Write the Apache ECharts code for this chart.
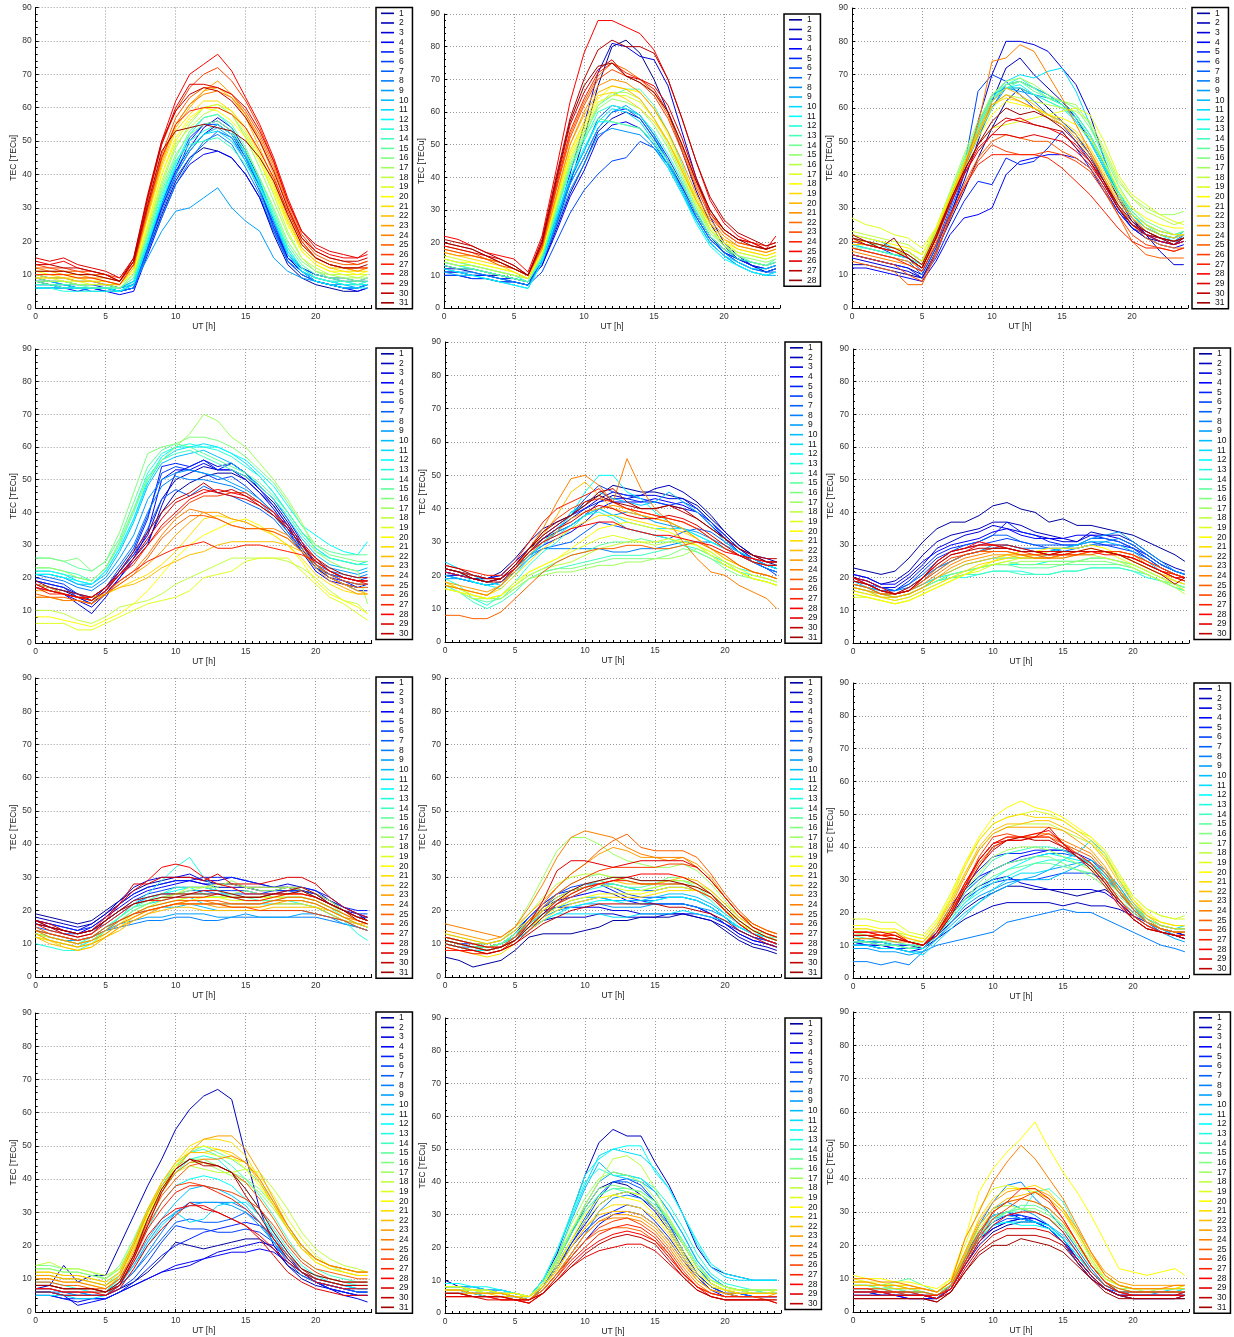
<!DOCTYPE html>
<html>
<head>
<meta charset="utf-8">
<script src="https://cdn.jsdelivr.net/npm/echarts@6/dist/echarts.min.js"></script>
<style>
  html, body { margin: 0; padding: 0; background: #fff; }
  #chart { width: 1234px; height: 1337px; }
</style>
</head>
<body>
<div id="chart"></div>
<script>
// Sample times (UT hours) shared by every daily TEC curve
const hours = [0,1,2,3,4,5,6,7,8,9,10,11,12,13,14,15,16,17,18,19,20,21,22,23,23.7];

// Monthly sets of daily TEC curves [TECu], one row per day of the month
const tecJan = [
[8,7,7,6,6,6,5,6,17,28,38,45,48,47,45,40,33,22,13,9,7,6,5,5,6],
[7,7,6,6,6,5,5,6,18,30,40,47,52,55,52,45,36,24,15,11,8,7,6,6,7],
[9,8,8,7,7,7,6,7,19,31,41,48,54,57,54,47,38,26,15,11,8,7,6,6,7],
[6,6,6,5,6,5,4,5,16,27,37,43,46,47,45,40,33,23,14,10,8,7,6,5,6],
[8,8,7,7,7,6,5,7,18,30,40,50,55,56,53,46,36,25,15,12,10,9,8,8,8],
[10,9,9,8,8,7,6,8,19,31,42,51,55,55,52,46,37,26,16,12,10,9,9,8,9],
[7,7,7,6,6,6,5,6,18,29,39,45,49,53,51,44,35,24,14,10,8,7,6,6,7],
[6,6,6,6,5,5,5,6,17,27,37,44,50,52,49,42,34,23,14,11,9,8,7,7,7],
[7,7,6,6,6,6,5,7,15,23,29,30,33,36,30,26,23,15,11,9,8,7,7,6,7],
[8,8,7,7,7,7,6,7,19,31,40,47,52,54,51,45,37,27,17,12,9,8,8,7,8],
[7,7,7,6,6,6,6,8,20,32,42,48,52,53,50,44,36,26,16,11,9,8,7,7,7],
[6,6,6,6,6,6,5,7,19,32,43,52,57,58,54,46,37,27,17,11,8,7,6,6,6],
[6,6,5,5,5,5,5,8,20,33,44,50,53,55,52,46,38,28,18,12,9,8,7,7,7],
[7,7,6,6,6,6,6,9,21,34,44,49,50,51,48,43,36,27,18,12,9,8,8,7,8],
[8,7,7,7,6,6,6,9,22,35,45,53,57,58,55,48,39,29,19,13,10,9,8,8,8],
[9,8,8,7,7,7,7,10,22,36,46,52,55,56,53,47,39,30,20,14,11,9,9,8,9],
[8,8,8,7,7,7,6,10,23,37,48,55,60,61,58,51,42,32,22,15,11,10,9,9,9],
[10,9,9,8,8,8,7,11,24,38,49,54,58,60,58,52,44,34,23,15,12,10,10,9,10],
[9,9,8,8,7,7,7,11,25,40,50,56,60,61,59,53,45,36,25,17,13,11,10,10,10],
[11,10,10,9,9,8,7,11,25,40,51,57,60,59,56,51,44,35,25,17,13,11,11,10,11],
[10,10,9,9,8,8,7,12,27,42,53,58,62,62,59,54,46,37,26,18,14,12,11,11,11],
[9,9,9,8,8,7,7,12,28,43,54,60,65,66,63,57,48,38,27,18,14,12,12,11,12],
[11,11,10,10,9,9,8,13,28,44,55,61,65,68,64,58,50,40,28,19,15,13,12,11,12],
[12,11,11,10,10,9,8,13,29,45,55,61,64,65,63,58,51,42,30,20,15,13,12,12,12],
[12,12,11,11,10,10,8,13,30,46,57,63,66,66,64,59,52,43,31,21,16,14,13,13,14],
[13,12,12,11,11,10,9,14,32,49,59,66,70,72,68,62,54,44,32,22,17,15,14,13,14],
[10,10,10,9,9,8,7,13,30,45,55,59,60,60,58,54,47,39,29,20,15,13,12,12,12],
[14,13,14,12,11,10,8,14,33,50,62,70,73,76,71,63,55,45,33,23,18,16,15,15,16],
[15,14,15,13,12,11,9,15,33,49,60,67,67,66,64,60,53,44,32,23,19,17,16,15,17],
[13,13,12,12,11,10,8,15,34,50,59,64,66,65,62,57,50,41,30,21,17,15,14,14,15],
[11,11,11,10,10,9,8,14,31,47,53,54,55,54,53,50,45,38,28,19,15,13,12,12,13]
];

const tecFeb = [
[11,11,10,10,9,8,7,14,25,38,52,68,80,82,78,70,60,48,36,26,19,15,13,11,12],
[12,12,11,10,10,9,8,13,24,35,44,54,58,60,58,52,45,37,29,22,18,15,13,12,13],
[10,10,9,9,8,8,7,14,26,41,56,72,81,80,77,76,68,54,40,28,20,16,13,11,12],
[13,12,12,11,10,9,8,13,23,34,42,52,56,57,55,50,44,36,28,21,17,15,14,13,14],
[11,11,10,10,9,9,8,14,27,38,46,55,60,61,59,53,46,38,29,22,17,15,13,12,13],
[10,10,9,9,8,8,7,11,20,29,36,41,45,46,51,49,44,37,29,22,17,14,12,11,11],
[13,12,12,11,10,9,8,15,27,39,48,58,62,61,58,52,45,36,28,21,17,14,12,11,12],
[12,11,11,10,9,8,7,14,25,36,44,53,55,54,53,49,43,35,27,20,16,13,11,10,11],
[11,10,10,9,8,7,6,14,26,38,46,55,60,62,59,53,45,36,27,20,16,13,11,10,10],
[14,13,12,11,10,9,8,15,28,40,48,57,61,60,57,51,44,36,27,20,16,14,12,12,13],
[12,11,10,9,8,7,6,14,27,40,49,57,57,56,55,50,43,35,26,19,15,13,11,10,11],
[15,14,13,12,11,10,8,15,29,42,51,60,62,61,59,54,47,39,30,22,18,15,14,13,14],
[14,13,12,11,10,9,8,16,29,43,52,62,65,67,67,62,54,44,33,24,19,16,14,13,15],
[13,12,12,11,10,9,8,16,30,43,52,58,57,56,55,51,45,38,29,22,18,16,14,13,14],
[15,14,13,12,11,10,9,16,30,44,53,61,64,63,61,56,49,40,31,23,19,16,15,14,15],
[14,13,13,12,11,10,9,17,31,45,54,62,66,66,64,58,50,41,31,24,19,17,16,15,16],
[16,15,14,13,12,11,9,17,32,46,55,63,65,65,63,58,51,42,32,24,20,17,16,15,16],
[15,14,14,13,12,11,9,17,32,47,56,64,68,67,66,61,53,43,33,25,20,18,17,16,17],
[17,16,15,14,13,11,9,18,33,48,57,65,66,64,61,57,51,43,34,26,21,18,17,16,17],
[18,17,16,15,14,12,10,18,34,50,59,66,68,67,64,58,51,42,33,26,21,19,18,17,18],
[17,16,16,15,14,12,10,18,34,50,60,68,70,69,66,61,54,45,35,27,22,19,18,17,18],
[19,18,17,15,14,12,10,19,36,53,63,71,75,73,70,66,59,49,38,29,23,20,19,18,19],
[18,17,16,15,13,12,10,19,36,52,62,70,73,71,69,65,58,48,37,28,23,20,19,18,19],
[20,19,18,16,14,12,10,19,37,54,64,72,75,72,70,67,60,50,39,29,24,21,20,19,20],
[22,21,19,17,16,15,11,22,42,63,78,88,88,86,84,79,70,58,45,33,26,22,20,18,22],
[19,18,17,16,15,13,10,20,38,56,66,73,76,71,70,68,62,52,40,30,24,21,20,18,19],
[21,20,19,17,15,13,10,21,40,58,70,79,82,80,80,78,70,58,45,34,27,23,21,19,20],
[20,19,18,16,14,12,10,20,39,57,68,74,75,71,69,66,60,50,39,30,24,21,19,18,19]
];

const tecMar = [
[13,13,12,11,10,9,17,26,35,45,54,62,66,64,60,56,52,46,38,30,24,21,20,19,20],
[16,15,14,13,12,10,18,28,38,50,62,72,75,70,66,62,57,50,42,33,26,22,20,19,21],
[15,14,13,12,11,9,16,27,40,56,70,80,80,79,77,72,67,58,45,33,27,22,17,13,13],
[12,12,11,10,9,8,14,22,27,28,30,40,44,45,46,46,45,42,36,29,24,21,19,18,19],
[16,15,14,13,12,9,15,24,32,38,37,45,43,44,48,53,48,42,35,29,24,22,21,20,21],
[20,19,18,16,15,11,19,30,42,65,70,68,64,60,57,55,50,44,37,30,25,22,20,19,20],
[18,17,16,15,14,10,18,29,40,55,64,66,66,62,58,56,52,46,38,31,25,22,21,19,22],
[19,18,17,16,15,12,21,32,42,52,60,67,68,66,64,61,57,51,43,34,27,23,21,20,22],
[21,20,19,17,16,13,22,32,42,51,60,66,65,64,63,62,58,52,43,34,28,24,22,21,23],
[20,19,18,17,16,13,22,33,43,53,62,67,68,66,64,61,56,50,42,34,28,24,22,21,22],
[22,21,20,18,17,14,23,34,44,54,63,68,70,69,71,72,65,55,45,35,28,24,22,21,23],
[19,18,17,16,15,13,22,33,43,53,62,66,67,64,62,60,56,50,42,34,28,24,22,20,21],
[21,20,19,18,17,14,23,34,44,54,63,67,69,66,63,61,58,52,44,35,29,25,23,22,23],
[20,19,19,18,17,14,23,33,43,53,62,66,66,64,62,60,57,51,43,35,29,25,23,22,22],
[18,18,17,16,16,13,22,33,44,54,63,66,68,65,63,61,58,52,44,35,29,25,22,21,22],
[19,19,18,17,16,13,23,34,45,55,64,67,68,66,63,62,60,54,46,37,30,26,24,22,23],
[21,20,19,18,17,14,24,35,46,56,64,68,69,67,64,62,61,55,47,38,33,30,28,28,29],
[23,22,21,20,19,16,24,34,44,52,60,64,63,62,61,60,59,56,48,39,33,29,27,25,26],
[27,25,24,22,21,18,24,33,42,49,54,55,56,57,58,59,60,58,50,40,34,31,28,26,25],
[22,21,20,19,18,16,24,34,43,51,58,62,61,60,58,57,55,51,44,36,30,27,25,24,24],
[20,20,19,18,17,14,23,33,43,52,61,63,62,60,58,56,53,48,41,34,28,25,23,22,22],
[19,19,18,17,16,13,22,33,43,53,62,66,64,61,58,55,52,47,40,33,27,24,22,21,22],
[18,17,16,15,14,12,21,32,42,52,61,64,62,60,57,55,51,46,39,32,27,23,21,20,21],
[17,16,15,14,13,11,20,31,42,55,74,75,79,77,70,63,55,47,39,31,25,21,19,18,18],
[14,13,12,11,7,7,16,27,37,45,50,52,51,50,50,47,45,42,36,28,20,16,15,15,15],
[16,15,14,13,10,8,17,27,36,44,49,47,46,46,47,46,44,41,35,28,22,19,18,17,18],
[18,17,16,15,13,11,19,28,36,43,46,46,46,46,45,42,38,34,29,24,20,18,18,17,18],
[20,19,18,17,15,12,21,31,40,48,52,56,57,55,54,52,49,44,37,30,25,22,20,19,20],
[21,19,18,17,15,12,21,31,40,47,52,52,51,52,51,50,47,43,37,30,25,22,21,20,21],
[22,20,19,18,16,13,22,32,41,49,54,57,56,55,54,53,48,44,38,30,25,23,21,19,21],
[21,20,18,21,15,12,21,32,41,49,56,60,58,59,57,54,50,45,38,31,26,23,21,20,21]
];

const tecApr = [
[18,17,16,14,12,16,21,26,31,40,46,49,51,52,52,50,46,42,36,29,23,20,18,17,17],
[19,18,17,15,13,17,22,27,33,44,50,52,54,53,53,51,47,43,37,30,24,21,19,18,18],
[17,16,15,12,9,14,20,25,30,42,52,54,56,54,55,52,48,44,38,31,24,20,18,16,16],
[18,17,15,13,11,15,20,26,34,50,53,53,55,53,53,50,46,41,35,28,22,19,18,17,18],
[19,18,17,14,12,16,22,28,38,54,55,54,56,53,55,52,47,42,36,29,23,20,19,17,17],
[20,19,18,15,13,17,23,29,39,52,54,53,52,50,51,48,44,40,34,28,23,21,20,19,20],
[18,17,16,15,14,17,22,27,35,44,47,45,48,46,45,43,41,38,33,28,23,21,20,19,19],
[21,20,19,17,16,19,24,30,40,48,51,50,50,49,48,46,43,39,34,29,24,22,21,20,21],
[21,21,20,18,17,20,26,33,44,50,52,53,52,51,49,47,44,40,35,30,25,23,22,21,22],
[21,21,20,18,18,21,28,37,48,55,57,58,59,57,55,52,48,44,38,32,27,24,23,22,23],
[22,22,21,19,18,22,29,38,49,56,59,60,61,60,58,55,51,46,40,34,29,26,25,24,25],
[21,21,20,19,18,22,29,38,50,57,60,60,60,60,58,56,52,48,42,36,33,30,28,27,31],
[22,22,21,20,19,23,31,41,52,58,60,61,60,59,57,54,51,46,40,34,29,26,25,24,24],
[23,23,22,21,19,23,30,40,51,56,58,59,57,55,53,51,48,44,39,33,28,26,25,24,24],
[26,26,25,23,22,25,32,43,54,59,61,60,58,56,54,52,49,45,40,34,30,28,27,27,27],
[26,26,25,26,22,25,34,46,58,60,61,63,63,62,60,57,53,49,43,36,30,27,26,25,25],
[23,23,22,20,19,23,31,41,50,56,60,64,70,68,63,60,55,50,44,37,28,25,23,22,12],
[10,10,9,7,6,8,11,12,13,15,18,20,22,24,26,26,26,26,25,23,20,16,13,12,9],
[6,6,6,4,4,6,8,10,12,13,14,16,20,21,22,25,26,26,26,22,18,14,12,9,7],
[8,8,7,6,5,7,9,12,16,21,26,30,33,35,37,38,36,33,30,25,19,15,13,11,9],
[18,17,15,14,13,15,17,19,21,24,28,33,38,39,38,37,35,33,30,26,21,18,16,15,15],
[16,16,15,14,14,15,17,18,20,23,25,27,28,30,31,31,31,31,30,28,24,20,18,16,15],
[14,14,13,13,12,15,18,21,24,28,33,37,40,40,38,37,35,34,32,28,23,19,17,15,15],
[14,14,13,13,12,15,19,22,27,33,38,41,40,38,36,35,35,35,33,29,24,20,18,17,17],
[15,14,14,13,12,15,18,21,26,32,36,39,39,38,36,35,35,34,32,28,24,21,19,18,18],
[18,16,15,14,14,17,21,24,30,35,39,43,45,45,46,46,43,40,35,30,25,22,20,19,19],
[17,15,15,14,13,16,19,22,25,27,29,30,31,29,29,30,30,29,28,27,25,22,20,19,18],
[17,16,15,14,14,17,21,25,30,36,40,44,46,47,46,45,43,40,36,31,26,22,20,19,19],
[18,16,15,14,13,16,21,26,32,38,43,45,47,46,45,44,42,39,35,30,25,22,20,19,19],
[19,17,16,15,14,17,22,28,34,40,44,46,49,46,47,45,42,39,35,30,26,23,21,20,20]
];

const tecMay = [
[21,20,19,19,21,25,30,34,36,38,42,44,47,46,45,45,44,43,41,37,33,29,26,24,23],
[22,21,20,19,20,24,28,31,33,35,38,42,44,43,44,46,47,45,42,38,33,29,26,25,24],
[20,20,19,18,19,23,27,31,34,37,40,43,45,44,44,44,43,43,40,36,32,28,25,23,22],
[21,20,19,18,19,22,26,29,31,33,36,40,42,42,42,43,42,41,39,35,31,27,24,22,21],
[22,21,20,19,20,24,28,32,35,38,40,42,43,43,42,42,41,40,39,36,32,28,25,23,22],
[20,19,18,17,18,22,27,31,34,38,43,47,45,44,43,42,41,42,40,36,31,27,24,22,20],
[21,20,19,18,19,22,26,28,29,30,33,36,35,34,33,32,31,33,34,33,30,27,24,22,21],
[20,19,18,17,18,21,25,28,28,28,28,28,27,27,28,28,29,30,30,30,28,26,24,22,21],
[19,19,18,17,18,22,27,30,33,35,38,40,38,39,38,36,35,34,33,31,29,27,25,23,22],
[20,19,18,17,18,22,26,29,33,39,41,45,43,42,41,42,45,42,39,35,30,27,25,23,22],
[24,22,20,18,17,21,26,30,32,35,38,40,38,36,35,34,34,34,32,30,28,26,24,23,23],
[22,21,18,17,16,20,25,30,34,38,45,50,50,45,43,39,36,34,32,30,28,26,24,23,22],
[19,17,13,11,14,18,23,27,30,34,38,39,37,34,33,32,31,29,28,26,24,22,21,20,19],
[17,15,12,10,12,15,19,21,22,23,24,25,26,26,26,27,28,29,27,25,23,21,20,19,18],
[16,15,13,12,13,17,20,22,24,26,27,29,30,30,31,30,30,31,29,26,23,21,19,18,17],
[17,16,14,13,13,16,19,21,22,22,23,24,25,25,25,25,26,28,27,25,22,20,19,18,17],
[18,16,14,13,13,16,19,20,21,21,22,23,23,24,24,25,25,26,28,26,23,21,19,18,17],
[16,15,13,13,14,17,20,22,23,24,26,28,29,30,30,29,30,30,29,27,24,21,19,18,17],
[17,16,14,13,14,18,21,23,25,27,29,31,32,31,30,30,31,30,29,27,24,22,20,19,18],
[16,15,14,13,14,17,21,23,25,28,31,34,35,36,35,34,33,31,29,26,23,21,19,18,17],
[18,16,15,14,16,20,24,28,31,34,36,38,38,37,36,35,34,33,31,28,25,23,21,20,19],
[17,16,15,14,17,22,27,32,38,45,48,44,40,39,38,37,36,34,31,28,25,23,21,20,19],
[18,17,16,15,17,21,26,30,33,37,39,40,41,40,38,37,36,34,31,28,26,23,21,20,19],
[17,16,15,14,17,22,28,34,42,49,50,47,42,55,46,40,36,30,25,21,20,17,15,13,10],
[8,8,7,7,9,13,17,21,24,26,27,28,28,29,29,28,28,29,30,28,26,23,21,20,19],
[22,21,20,19,19,23,28,33,37,40,42,43,42,40,39,38,37,36,34,31,28,26,24,23,23],
[23,22,21,20,20,24,30,36,40,42,44,46,42,40,39,38,37,36,34,31,28,26,25,24,24],
[21,20,19,18,19,22,27,30,32,34,35,36,36,34,33,32,32,31,30,29,27,26,25,24,24],
[22,21,19,18,18,22,27,31,34,36,39,41,40,38,37,37,38,37,35,32,29,26,24,23,23],
[23,22,20,19,19,23,28,32,35,38,41,45,46,42,40,40,41,39,37,34,31,28,26,25,25],
[22,21,19,18,19,23,28,33,36,38,41,44,42,41,40,40,41,40,37,34,31,28,26,24,24]
];

const tecJun = [
[23,22,21,22,26,31,35,37,37,39,42,43,41,40,37,38,36,36,35,34,33,31,29,27,25],
[21,20,18,19,22,27,31,33,34,35,37,37,36,34,33,32,31,34,33,33,31,28,25,23,22],
[20,19,17,17,20,24,29,31,33,34,36,35,34,33,32,31,31,33,33,32,30,27,24,22,21],
[21,20,18,18,21,25,28,30,31,32,34,35,33,32,32,32,33,33,32,31,29,27,24,22,21],
[20,19,17,16,19,23,27,29,30,31,33,37,34,33,31,30,30,31,30,30,29,26,23,21,20],
[19,18,16,16,18,22,26,28,29,30,31,32,31,30,29,29,29,30,30,29,28,26,23,21,20],
[20,18,17,16,18,21,25,28,30,31,33,33,31,30,30,30,30,32,32,31,29,26,23,21,20],
[19,18,16,16,17,20,23,25,27,28,29,30,29,29,29,28,29,30,31,32,30,27,24,22,21],
[18,17,16,15,17,20,23,25,27,28,30,30,29,28,28,29,30,32,33,34,31,28,25,22,21],
[19,17,16,15,16,19,22,25,27,28,29,29,28,28,28,29,30,31,31,30,28,25,22,20,19],
[18,17,15,15,16,18,20,22,24,25,26,26,26,26,27,27,28,28,28,27,25,23,21,19,18],
[18,17,15,15,16,18,20,21,22,23,24,24,24,24,25,25,25,26,26,25,24,22,20,18,17],
[17,16,15,14,15,17,19,20,20,21,22,22,22,21,21,22,22,23,23,23,22,20,19,17,16],
[17,16,15,14,15,17,19,20,21,21,22,22,21,21,21,22,22,23,23,23,22,21,19,17,16],
[18,17,15,14,15,17,19,21,22,23,24,24,23,23,23,24,24,24,24,24,23,21,19,18,17],
[17,16,14,14,15,17,19,21,22,23,24,25,24,24,24,24,25,25,25,24,23,21,19,18,17],
[16,15,14,13,14,16,18,20,21,23,24,24,25,25,25,25,25,26,26,25,24,22,20,18,16],
[15,14,13,12,13,15,17,19,21,23,25,26,26,26,26,26,27,27,26,25,23,21,19,17,15],
[14,14,13,12,13,15,17,19,21,22,24,25,26,27,28,28,28,29,28,26,24,22,20,18,16],
[15,14,13,12,13,15,17,19,21,23,25,27,28,28,29,29,29,30,29,27,25,23,21,19,18],
[16,15,14,13,14,16,18,20,22,24,25,26,27,27,27,28,28,28,28,27,25,23,21,19,18],
[17,16,14,14,15,17,20,22,24,25,26,27,26,26,26,27,28,28,28,27,25,23,21,20,19],
[17,16,15,14,15,17,20,23,25,26,27,27,27,26,26,27,27,28,28,27,26,24,22,20,19],
[18,17,15,15,16,18,21,24,26,27,28,28,27,26,26,27,27,28,28,28,27,24,22,21,20],
[18,17,15,15,16,19,22,25,27,28,28,28,27,27,26,26,27,27,28,28,27,25,23,21,20],
[19,18,16,15,16,19,23,26,27,28,29,29,28,27,27,27,27,28,28,28,27,25,23,21,20],
[20,18,16,15,16,20,24,27,28,30,30,29,28,28,27,28,28,28,28,27,26,24,22,21,20],
[20,18,16,15,16,20,25,28,29,31,30,29,28,28,27,27,28,28,27,27,26,24,22,20,20],
[20,19,17,15,17,20,25,28,29,30,30,30,29,28,28,28,28,28,28,27,26,24,22,20,19],
[19,18,16,15,16,20,24,27,28,29,29,29,28,28,27,28,28,29,28,27,25,23,21,18,20]
];

const tecJul = [
[19,18,17,16,17,20,23,26,28,29,30,30,29,28,28,27,27,27,27,26,24,22,20,18,18],
[18,17,16,15,16,19,22,25,27,28,29,29,28,27,27,27,26,26,27,26,25,23,21,19,17],
[17,16,15,14,16,19,23,27,29,30,30,31,29,29,30,29,28,27,28,27,26,23,20,19,18],
[16,15,14,13,15,18,21,24,26,27,28,29,28,28,28,27,26,26,26,26,25,22,20,18,17],
[17,16,15,14,15,18,22,25,27,28,29,29,30,30,30,29,28,27,27,27,26,24,21,20,20],
[16,15,14,13,14,17,20,23,25,26,27,27,27,26,26,26,25,26,26,26,25,23,21,19,19],
[15,14,13,13,14,16,19,22,24,25,25,26,26,25,25,25,25,25,26,25,24,22,20,18,17],
[14,13,12,11,12,14,15,16,17,17,18,18,17,17,18,18,18,18,18,18,18,17,16,15,14],
[13,12,11,11,12,14,16,17,18,18,19,19,19,18,18,19,18,18,18,19,19,18,16,15,14],
[14,13,12,11,12,15,17,19,20,21,21,22,21,20,20,20,20,20,20,20,19,18,17,15,14],
[13,12,11,10,11,14,17,20,22,23,24,24,22,22,22,22,22,22,22,22,21,19,17,16,15],
[12,11,10,9,11,14,18,21,24,25,26,27,25,24,24,23,23,23,23,23,22,20,18,16,15],
[10,9,8,8,10,14,18,22,25,29,33,36,30,26,24,23,23,23,23,22,21,19,17,13,11],
[13,12,11,10,12,15,18,21,23,25,27,27,27,26,25,24,24,24,24,24,23,21,18,16,15],
[14,13,12,11,12,15,18,21,22,24,25,25,25,24,24,24,23,23,24,24,23,21,19,17,16],
[13,12,11,10,11,14,17,19,21,22,23,24,24,24,25,26,25,24,24,24,23,21,19,17,16],
[14,12,11,10,11,14,17,20,22,24,25,26,27,27,29,27,26,26,27,26,24,22,19,17,16],
[13,12,11,10,11,13,16,19,21,23,25,27,27,28,28,27,27,27,27,27,25,23,20,18,17],
[12,11,10,9,10,13,16,19,21,22,23,24,24,24,23,23,23,24,24,24,23,21,19,17,16],
[13,11,10,9,10,12,15,18,20,21,22,23,24,24,24,24,24,24,25,25,24,22,20,18,17],
[12,11,9,8,9,12,15,18,20,21,22,22,22,22,21,21,21,22,22,22,21,20,18,16,15],
[12,10,9,8,9,12,14,17,19,20,21,21,20,20,20,20,20,21,21,21,21,19,17,16,15],
[13,11,10,9,10,12,15,17,19,21,22,22,22,21,21,21,21,22,23,23,22,20,18,16,16],
[14,12,11,10,11,13,16,18,20,21,22,23,23,22,22,22,22,23,23,23,22,20,18,17,16],
[15,13,12,11,12,14,17,19,21,22,23,23,23,23,22,22,22,23,24,24,23,21,19,17,16],
[14,13,12,11,12,15,17,19,20,21,22,22,22,22,21,21,20,20,20,20,19,18,17,15,14],
[16,14,13,12,13,16,19,22,23,23,24,24,24,25,24,23,23,24,25,25,24,22,20,18,17],
[17,15,14,13,14,18,22,26,29,33,34,33,30,28,27,25,25,25,25,25,24,22,20,18,17],
[17,16,14,13,14,17,22,28,28,30,30,30,29,31,28,28,28,29,30,30,28,24,21,19,18],
[16,15,13,12,13,17,20,23,24,25,25,25,26,26,25,24,24,25,26,27,25,22,20,17,16],
[17,15,14,13,14,17,20,22,23,24,24,25,25,25,24,24,24,25,25,26,24,22,20,18,17]
];

const tecAug = [
[6,5,3,4,5,8,12,13,13,13,14,15,17,17,18,18,18,19,18,17,14,11,9,8,7],
[10,9,8,8,9,11,14,17,18,18,18,19,19,18,18,18,19,19,18,17,15,12,10,9,8],
[11,10,9,9,10,12,16,20,21,21,21,21,20,20,19,19,19,19,19,18,16,13,11,10,9],
[10,9,8,8,9,12,17,21,23,24,25,26,25,23,22,22,22,22,21,19,16,13,11,10,9],
[11,10,10,9,10,13,18,22,25,26,27,28,26,24,23,22,22,22,21,19,16,14,12,11,10],
[12,11,10,10,11,14,18,22,25,27,28,28,27,25,24,24,24,24,23,21,18,14,12,11,10],
[11,10,9,9,10,13,17,21,24,26,27,28,28,27,26,26,27,27,26,24,20,16,13,11,10],
[10,9,9,8,9,12,16,19,21,22,23,24,23,23,23,23,24,24,23,21,18,15,13,11,10],
[11,10,9,9,10,12,15,18,20,21,22,22,21,21,21,22,22,22,21,20,18,15,13,11,10],
[12,11,10,9,10,13,16,19,21,23,24,24,23,23,23,24,25,25,24,22,19,16,13,12,11],
[11,10,9,8,9,12,15,17,19,19,19,19,18,18,19,19,19,20,19,18,17,15,13,12,11],
[10,9,8,8,9,11,14,17,19,21,22,23,23,22,22,23,24,24,23,21,18,15,13,12,11],
[12,11,10,9,10,13,16,19,22,24,26,27,28,27,26,27,28,28,26,23,19,16,14,12,12],
[11,10,9,9,10,12,15,18,22,25,27,29,30,30,29,29,29,29,28,25,21,17,14,12,11],
[12,11,10,9,10,13,17,20,23,26,28,29,28,27,27,28,29,29,27,24,20,17,14,13,12],
[11,10,9,9,10,13,17,21,25,28,30,31,30,29,28,28,30,30,28,25,21,17,14,12,11],
[13,12,11,10,11,15,22,30,38,42,42,40,37,35,34,33,33,34,32,28,23,18,15,13,12],
[12,11,10,10,11,14,19,24,28,30,31,31,30,29,28,28,29,29,28,26,22,18,15,13,12],
[11,10,9,8,9,12,16,20,24,26,27,28,27,26,26,27,28,28,27,25,21,17,14,12,11],
[10,9,8,7,8,11,15,18,21,23,24,25,25,25,25,26,27,27,26,24,20,16,14,12,11],
[9,8,7,6,7,10,14,17,20,22,23,24,24,24,24,25,26,26,26,24,20,17,14,12,11],
[13,12,11,10,11,14,17,20,23,25,27,28,29,28,28,28,29,30,29,26,22,18,15,13,12],
[14,13,12,11,12,15,19,23,27,31,34,37,39,38,36,36,35,36,34,30,24,19,16,14,13],
[16,15,14,13,12,15,21,28,36,42,44,43,42,39,37,36,36,36,33,29,24,19,16,14,13],
[12,11,10,9,9,12,17,22,27,31,34,38,41,43,39,38,38,38,36,31,25,20,16,14,13],
[11,10,9,8,9,12,16,21,25,28,30,32,33,33,33,33,34,34,33,29,24,19,15,13,12],
[8,8,7,7,8,11,15,19,22,24,26,28,29,29,28,28,28,28,26,24,20,16,13,11,10],
[9,8,8,7,8,10,14,18,22,25,27,28,29,30,31,31,31,30,28,25,20,16,13,11,10],
[12,11,10,9,9,11,16,23,32,35,35,34,33,34,35,35,35,35,33,29,24,19,15,13,12],
[10,9,8,7,8,10,13,16,18,20,21,22,22,22,22,22,21,21,20,19,17,14,12,10,9],
[11,10,9,8,9,11,15,19,23,26,28,29,30,30,29,29,29,28,27,25,21,17,14,12,11]
];

const tecSep = [
[11,10,10,9,9,9,13,17,21,24,26,28,28,27,27,26,25,26,27,24,20,17,15,14,13],
[12,11,11,10,10,9,12,15,18,20,22,23,23,23,23,22,23,22,22,21,19,17,15,14,13],
[10,10,9,9,8,9,14,19,25,28,30,31,29,28,27,27,27,27,26,23,19,16,14,13,12],
[11,10,10,9,9,9,14,20,27,31,33,35,37,38,39,39,37,35,31,26,21,17,15,14,13],
[12,11,11,10,10,10,15,22,28,33,37,38,38,39,39,39,38,36,32,27,21,17,15,14,14],
[10,10,9,9,9,9,13,19,24,27,29,30,30,30,31,32,32,32,30,26,21,17,14,13,12],
[11,11,10,10,9,10,14,20,26,30,33,35,36,37,38,38,37,35,31,26,21,17,15,13,13],
[5,5,4,5,4,8,10,11,12,13,14,17,18,19,20,21,20,20,18,16,14,12,10,9,8],
[9,9,8,8,7,8,12,17,22,25,27,29,30,31,33,34,35,36,33,28,22,17,14,12,11],
[10,10,9,9,8,8,12,16,20,23,26,28,30,30,30,32,34,36,33,28,22,17,15,13,12],
[10,10,9,9,8,7,11,15,19,23,27,30,32,32,33,36,38,42,38,30,23,18,16,15,16],
[11,11,10,10,9,9,13,18,23,27,30,33,35,37,38,37,36,35,32,27,22,18,16,15,15],
[12,11,11,10,9,9,13,18,23,26,29,31,33,35,36,36,35,34,31,27,22,18,16,15,15],
[13,12,12,11,10,10,14,20,26,31,36,38,39,40,40,39,37,35,31,26,21,17,15,14,14],
[12,12,11,11,10,10,14,19,24,28,31,33,34,35,35,34,33,32,29,25,21,18,16,15,15],
[11,11,10,10,9,10,14,19,24,29,33,35,36,37,37,35,33,31,28,24,20,17,15,14,14],
[14,13,13,12,11,11,15,21,27,32,37,39,40,40,39,37,35,33,30,26,22,19,17,16,16],
[15,15,14,14,13,12,17,24,32,39,44,46,47,47,47,45,43,41,37,31,25,21,19,18,19],
[18,18,17,17,14,13,18,26,35,42,47,49,50,51,50,48,45,43,39,32,25,21,19,18,18],
[16,16,15,15,13,12,17,25,35,43,49,52,54,52,51,49,46,43,38,31,24,20,17,16,16],
[15,15,14,14,12,11,16,24,34,42,47,49,50,49,49,48,45,42,37,30,24,19,17,16,16],
[14,14,13,13,12,11,16,23,32,40,45,47,47,48,48,46,44,41,36,29,23,19,16,15,15],
[13,13,12,12,11,10,15,22,31,39,44,46,46,46,46,45,42,39,34,27,22,18,15,14,14],
[12,12,12,11,11,10,14,21,29,36,41,43,43,44,44,42,40,38,33,27,21,17,15,14,14],
[13,13,12,12,11,10,14,20,28,35,40,42,43,43,43,41,39,37,32,26,21,17,15,14,14],
[14,14,13,14,11,10,13,20,28,37,43,44,43,43,44,41,38,35,30,24,19,16,14,13,13],
[13,13,13,12,11,10,13,19,27,34,40,42,42,43,43,40,38,35,30,24,19,16,14,13,13],
[14,14,13,13,11,10,14,20,28,36,41,43,43,44,45,41,37,34,29,23,18,15,14,13,12],
[14,14,14,13,11,10,14,21,29,36,41,42,42,43,46,41,37,33,28,22,18,15,14,13,12],
[13,13,12,12,11,10,13,19,27,34,39,42,43,42,42,40,37,34,29,23,18,15,14,13,12]
];

const tecOct = [
[6,6,5,5,5,5,7,9,12,16,21,20,19,20,21,22,22,19,14,11,9,8,7,6,6],
[7,8,14,9,11,11,20,29,38,46,55,61,65,67,64,47,31,20,14,10,8,7,6,5,5],
[5,5,4,3,4,4,6,8,10,12,13,14,16,18,19,20,21,20,16,12,9,7,5,4,3],
[6,6,5,2,3,4,6,8,10,12,14,15,16,17,18,18,19,18,15,12,9,7,6,5,5],
[5,5,4,4,4,4,6,9,13,17,20,22,24,25,26,27,26,23,17,12,9,7,6,5,5],
[6,6,5,5,5,5,7,10,15,21,26,25,25,24,24,25,24,21,16,12,9,8,7,6,6],
[7,7,6,6,5,5,8,12,17,22,27,28,27,27,28,30,27,22,16,12,9,8,7,6,6],
[6,6,6,5,5,5,8,12,18,24,30,33,33,33,33,31,27,21,15,11,9,8,7,7,7],
[7,7,6,6,5,5,9,14,21,27,30,32,33,33,32,30,26,21,16,12,10,9,8,7,7],
[6,6,5,5,5,5,9,15,22,28,33,37,38,37,35,32,27,21,16,12,10,9,8,7,7],
[5,5,5,4,4,5,8,14,20,26,30,27,28,32,33,33,29,24,18,13,10,9,8,7,7],
[8,8,7,7,6,6,10,17,25,33,38,40,41,40,38,34,29,23,17,13,11,9,8,8,8],
[9,9,8,7,7,6,11,19,28,36,42,46,47,46,42,37,31,25,19,14,11,10,9,8,8],
[11,11,10,10,9,8,12,20,30,38,44,48,49,47,44,40,35,29,22,16,13,11,10,9,9],
[13,13,12,12,11,10,13,21,31,38,44,48,50,48,46,43,39,33,26,20,16,14,13,12,12],
[14,14,13,13,12,10,14,22,31,39,44,46,46,44,42,40,37,32,26,20,16,14,13,12,12],
[13,13,12,12,11,10,13,21,30,37,42,45,45,43,41,39,36,31,25,20,16,14,12,11,11],
[14,15,13,13,12,11,13,21,30,37,42,44,43,42,42,43,42,37,31,24,19,16,14,13,12],
[12,12,11,11,10,9,12,20,29,37,43,48,48,47,46,45,41,35,28,22,17,14,13,12,12],
[11,11,10,10,9,8,11,19,29,37,44,49,50,49,47,43,38,32,25,19,15,13,12,11,11],
[10,10,9,9,8,7,11,19,30,39,45,50,52,52,51,47,40,33,25,19,15,13,12,11,11],
[12,12,11,11,10,9,12,21,31,39,45,48,48,49,48,45,39,32,25,19,16,14,13,12,12],
[11,11,10,10,9,8,11,20,30,38,43,48,52,53,53,49,42,34,26,20,16,14,13,12,12],
[10,10,9,9,8,7,10,18,28,36,42,45,46,46,47,45,40,33,26,20,16,14,13,12,12],
[9,9,8,8,7,7,10,17,27,35,40,44,45,44,42,39,34,28,21,16,13,12,11,10,10],
[8,8,7,7,7,6,9,17,26,33,38,39,38,37,36,34,31,26,20,15,12,10,9,9,9],
[7,7,6,6,6,6,8,16,25,31,36,38,38,36,34,31,27,22,17,13,10,9,8,8,8],
[7,7,6,6,6,5,8,15,23,28,31,32,32,30,28,26,23,19,15,12,9,8,7,7,7],
[6,6,5,5,5,5,7,13,20,25,29,33,31,30,28,26,22,17,12,9,7,6,5,5,5],
[8,8,7,7,7,6,8,16,26,36,43,46,44,44,42,35,29,22,16,12,10,9,8,8,8],
[8,8,7,7,7,6,9,17,28,37,43,46,45,44,42,37,31,24,18,13,11,10,9,9,9]
];

const tecNov = [
[8,8,7,7,6,6,5,9,16,24,32,38,40,39,36,32,26,19,12,8,6,6,5,5,5],
[10,8,8,7,7,6,5,10,18,30,42,52,56,54,54,46,39,30,20,14,12,11,10,10,10],
[7,7,6,6,6,5,4,8,14,21,27,33,36,37,35,31,25,18,12,8,6,6,5,5,5],
[6,6,6,5,5,5,4,7,12,17,22,27,30,31,30,27,22,16,11,7,5,5,5,5,5],
[7,7,6,6,6,5,5,8,14,20,25,29,31,33,32,28,23,17,11,7,6,5,5,5,5],
[6,6,6,5,5,5,4,8,14,21,28,35,40,41,39,34,27,19,12,8,6,5,5,5,5],
[7,7,6,6,6,5,4,8,15,22,29,36,40,40,38,34,28,21,14,9,7,6,6,6,6],
[6,6,5,5,5,5,4,7,12,18,24,31,35,36,35,32,27,21,14,9,7,6,5,5,5],
[7,7,7,6,6,5,5,9,16,24,33,40,43,42,41,37,31,24,16,11,8,7,6,6,6],
[8,8,7,7,6,6,5,9,17,28,38,46,42,41,40,37,31,24,16,11,8,7,7,6,6],
[8,8,8,7,7,6,5,10,19,29,39,48,50,49,48,44,38,30,21,14,11,10,10,10,10],
[9,9,8,8,7,6,5,10,19,30,42,47,50,51,51,43,38,30,22,15,12,11,10,10,10],
[8,8,7,7,6,6,5,10,19,30,40,44,42,42,41,38,33,26,18,12,9,8,7,7,7],
[7,7,7,6,6,5,5,9,17,25,31,36,38,37,36,33,28,22,15,10,8,7,6,6,6],
[7,7,6,6,6,5,5,9,16,24,31,36,38,38,37,34,29,22,15,10,8,7,7,6,7],
[6,6,6,5,5,5,5,9,16,25,32,38,39,38,37,34,28,21,14,10,8,7,7,7,7],
[7,7,7,6,6,5,5,9,17,27,35,41,43,42,40,35,28,21,14,10,8,7,7,7,7],
[8,8,7,7,6,6,5,9,16,25,33,40,47,48,45,38,29,21,14,10,8,7,7,7,7],
[7,7,7,6,6,6,5,9,15,22,28,33,36,37,36,32,26,19,13,9,7,7,6,6,7],
[8,8,7,7,6,6,5,8,14,22,30,35,36,35,34,30,25,18,12,9,7,6,6,6,6],
[7,7,6,6,6,5,5,8,13,20,26,31,33,33,32,29,24,17,11,8,7,6,6,6,6],
[6,6,6,6,5,5,4,8,13,20,26,30,31,31,30,27,22,16,10,7,6,6,6,6,6],
[7,7,6,6,6,5,4,7,12,18,24,28,30,30,29,26,21,15,10,7,6,5,5,5,6],
[5,5,5,5,5,4,4,7,12,18,24,28,29,29,28,25,20,14,9,6,5,5,5,5,5],
[6,6,5,5,5,4,4,7,12,17,22,25,26,26,25,22,18,12,8,6,5,5,5,5,5],
[5,5,5,5,4,4,3,6,11,17,22,26,28,29,27,24,19,13,8,6,5,5,5,4,4],
[6,6,5,5,5,4,4,6,11,16,20,24,26,27,26,23,18,12,8,6,5,5,5,5,5],
[5,5,5,5,4,4,3,6,10,15,19,22,24,25,24,22,17,12,8,5,4,4,4,4,3],
[5,5,5,4,4,4,3,6,10,14,17,19,20,21,21,19,15,11,7,5,4,4,4,4,3],
[6,6,5,5,5,4,4,6,10,14,18,21,23,24,23,21,16,11,7,5,4,4,4,4,4]
];

const tecDec = [
[6,6,5,5,5,5,4,7,14,20,24,26,27,27,25,21,16,11,7,5,5,5,5,5,5],
[5,5,5,5,4,4,4,7,14,21,25,27,28,27,25,21,15,10,7,5,4,4,4,4,4],
[6,6,6,5,5,5,4,7,15,22,25,27,28,28,26,22,16,11,7,5,4,4,4,4,5],
[5,5,5,5,4,4,4,8,16,23,27,29,29,28,26,22,16,11,7,5,5,5,5,5,5],
[6,6,5,5,5,5,4,8,17,24,29,30,28,27,25,21,15,10,7,5,5,5,5,5,5],
[7,7,6,6,6,5,5,8,15,22,26,28,28,27,25,21,16,11,7,6,5,5,5,5,6],
[6,6,6,5,5,5,4,8,16,24,29,30,29,27,25,21,15,10,7,5,5,5,5,5,5],
[5,5,5,5,5,5,4,8,17,26,33,38,39,34,30,25,19,13,8,6,5,5,5,5,5],
[6,6,6,6,5,5,5,8,17,26,31,33,31,29,26,22,17,12,8,6,5,5,6,6,6],
[7,7,7,6,6,6,5,8,16,24,28,29,28,27,26,23,18,12,8,6,6,6,6,6,7],
[7,7,7,7,6,6,5,8,15,22,26,27,27,27,26,22,17,12,8,6,6,6,6,7,7],
[8,8,7,7,7,6,5,8,15,22,26,27,26,26,25,22,17,12,8,6,6,6,6,6,7],
[7,7,7,6,6,6,5,8,15,23,28,30,31,30,28,24,18,12,8,7,6,6,6,6,6],
[8,8,7,8,7,6,5,8,16,24,29,30,30,36,37,33,25,16,10,8,7,7,7,7,7],
[8,8,8,9,10,8,6,8,15,22,27,30,32,32,30,26,20,14,10,8,7,7,7,7,7],
[7,7,7,7,6,6,5,8,16,23,28,30,31,31,29,26,20,14,9,7,6,6,6,6,6],
[8,8,7,7,7,6,5,8,17,26,31,32,31,30,28,25,20,14,9,7,7,6,7,7,7],
[9,9,8,8,7,7,6,9,17,25,30,33,34,33,31,27,21,15,10,8,7,7,7,7,8],
[10,9,9,8,8,7,6,10,20,31,37,38,37,36,34,30,23,16,10,8,7,7,7,7,8],
[11,10,10,9,9,8,7,10,22,36,43,48,52,57,49,42,36,29,21,13,12,11,12,13,11],
[9,9,8,8,8,7,6,9,18,28,34,37,37,38,36,31,24,17,11,8,7,7,7,7,8],
[8,8,8,7,7,7,6,9,17,26,31,34,35,36,34,30,24,17,11,8,7,7,7,7,7],
[9,9,8,8,7,7,6,9,18,27,33,36,37,37,35,31,25,18,12,9,8,8,8,8,8],
[10,10,9,9,8,7,6,9,22,30,39,45,50,46,40,34,26,18,11,8,7,7,7,8,8],
[7,7,7,6,6,6,5,8,16,24,30,33,34,33,31,27,21,14,9,7,6,6,6,6,6],
[6,6,6,6,5,5,5,7,15,22,28,31,34,36,33,28,21,14,9,6,5,5,5,5,5],
[7,7,6,6,6,5,5,7,15,23,30,33,37,37,34,28,21,14,9,6,6,6,6,6,6],
[6,6,6,5,5,5,4,7,14,21,26,29,30,30,28,24,18,12,8,6,5,5,5,5,5],
[5,5,5,5,5,5,4,6,13,19,23,25,25,25,24,21,16,11,7,5,5,5,5,5,6],
[4,4,4,4,4,4,3,6,12,18,21,23,23,23,22,20,15,10,7,5,4,4,4,4,5],
[4,4,4,4,4,4,3,6,12,17,20,20,22,21,20,18,14,10,6,4,4,4,4,4,4]
];

// Axis ticks
const tecTicks = [0,10,20,30,40,50,60,70,80,90];
const utTicks = [0,5,10,15,20];

// Panel layout: plot box and key box for each month, 3 columns x 4 rows
const panels = [
  { month: 'Jan', days: tecJan, plot: { left: 35.7, top: 7.5,  height: 300.5 }, key: { left: 376,  top: 7.5 } },
  { month: 'Feb', days: tecFeb, plot: { left: 444,  top: 14,   height: 294 },   key: { left: 784,  top: 14 } },
  { month: 'Mar', days: tecMar, plot: { left: 852,  top: 8,    height: 300 },   key: { left: 1192, top: 7.5 } },
  { month: 'Apr', days: tecApr, plot: { left: 35.7, top: 349,  height: 294 },   key: { left: 376,  top: 348 } },
  { month: 'May', days: tecMay, plot: { left: 445,  top: 342,  height: 300 },   key: { left: 785,  top: 342 } },
  { month: 'Jun', days: tecJun, plot: { left: 853,  top: 349,  height: 294 },   key: { left: 1194, top: 348 } },
  { month: 'Jul', days: tecJul, plot: { left: 35.7, top: 678,  height: 299 },   key: { left: 376,  top: 677 } },
  { month: 'Aug', days: tecAug, plot: { left: 445,  top: 678,  height: 299 },   key: { left: 785,  top: 677 } },
  { month: 'Sep', days: tecSep, plot: { left: 853,  top: 683,  height: 295 },   key: { left: 1194, top: 683 } },
  { month: 'Oct', days: tecOct, plot: { left: 35.7, top: 1013, height: 299 },   key: { left: 376,  top: 1012 } },
  { month: 'Nov', days: tecNov, plot: { left: 445,  top: 1018, height: 295 },   key: { left: 785,  top: 1018 } },
  { month: 'Dec', days: tecDec, plot: { left: 853,  top: 1012, height: 300 },   key: { left: 1194, top: 1012 } }
];

const PX_PER_HOUR = 14;
const FONT = '"Liberation Sans", Arial, Helvetica, sans-serif';

// MATLAB-style jet colormap with m entries
function jet(m) {
  const n = Math.ceil(m / 4);
  const u = [];
  for (let i = 1; i <= n; i++) u.push(i / n);
  for (let i = 1; i < n; i++) u.push(1);
  for (let i = n; i >= 1; i--) u.push(i / n);
  const g0 = Math.ceil(n / 2) - (m % 4 === 1 ? 1 : 0);
  const J = Array.from({ length: m }, () => [0, 0, 0]);
  for (let k = 0; k < u.length; k++) {
    const g = g0 + k + 1, r = g + n, b = g - n;
    if (r >= 1 && r <= m) J[r - 1][0] = u[k];
    if (g >= 1 && g <= m) J[g - 1][1] = u[k];
    if (b >= 1 && b <= m) J[b - 1][2] = u[k];
  }
  return J.map(c => 'rgb(' + c.map(v => Math.round(v * 255)).join(',') + ')');
}

const grids = [], xAxes = [], yAxes = [], legends = [], series = [];

panels.forEach((p, pi) => {
  grids.push({ left: p.plot.left, top: p.plot.top, width: 24 * PX_PER_HOUR, height: p.plot.height, containLabel: false });

  xAxes.push({
    gridIndex: pi, type: 'value', min: 0, max: 24, interval: 5,
    name: 'UT [h]', nameLocation: 'middle', nameGap: 12,
    nameTextStyle: { fontSize: 8.5, color: '#222', fontFamily: FONT },
    axisLine: { show: true, onZero: false, lineStyle: { color: '#000', width: 1 } },
    axisTick: { show: true, inside: true, length: 3, lineStyle: { color: '#000' } },
    minorTick: { show: true, splitNumber: 10, length: 2, lineStyle: { color: '#000' } },
    axisLabel: {
      fontSize: 8.5, color: '#333', margin: 4, fontFamily: FONT, showMaxLabel: false,
      formatter: v => (utTicks.includes(v) ? String(v) : '')
    },
    splitLine: { show: true, showMinLine: false, showMaxLine: false, lineStyle: { color: '#999', width: 1, type: [1, 2] } }
  });

  yAxes.push({
    gridIndex: pi, type: 'value', min: 0, max: 90, interval: 10,
    name: 'TEC [TECu]', nameLocation: 'middle', nameGap: 16,
    nameTextStyle: { fontSize: 8.5, color: '#222', fontFamily: FONT },
    axisLine: { show: true, onZero: false, lineStyle: { color: '#000', width: 1 } },
    axisTick: { show: true, inside: true, length: 3, lineStyle: { color: '#000' } },
    minorTick: { show: true, splitNumber: 5, length: 2, lineStyle: { color: '#000' } },
    axisLabel: {
      fontSize: 8.5, color: '#333', margin: 4, fontFamily: FONT,
      formatter: v => (tecTicks.includes(v) ? String(v) : '')
    },
    splitLine: { show: true, showMinLine: false, lineStyle: { color: '#999', width: 1, type: [1, 2] } }
  });

  const colors = jet(p.days.length);
  const names = [];
  p.days.forEach((vals, d) => {
    const name = p.month + ' ' + (d + 1);
    names.push(name);
    series.push({
      type: 'line', name, xAxisIndex: pi, yAxisIndex: pi,
      data: hours.map((h, i) => [h, vals[i]]),
      showSymbol: false, symbol: 'none', silent: true, animation: false,
      lineStyle: { width: 1, color: colors[d] },
      itemStyle: { color: colors[d] },
      emphasis: { disabled: true }
    });
  });

  legends.push({
    data: names, left: p.key.left, top: p.key.top, orient: 'vertical',
    formatter: n => n.split(' ')[1],
    icon: 'rect', itemWidth: 13, itemHeight: 1.6, itemGap: 0,
    textStyle: { fontSize: 8.5, lineHeight: 9.65, color: '#111', fontFamily: FONT },
    padding: [1, 4, 1, 5],
    borderColor: '#000', borderWidth: 1.5, backgroundColor: '#fff',
    selectedMode: false
  });
});

const chart = echarts.init(document.getElementById('chart'), null, { renderer: 'canvas' });
chart.setOption({
  backgroundColor: '#fff',
  animation: false,
  grid: grids, xAxis: xAxes, yAxis: yAxes, legend: legends, series
});

// Sanity check: every daily curve must have one value per sample time
const bad = [];
panels.forEach(p => p.days.forEach((v, d) => { if (v.length !== hours.length) bad.push(p.month + ' ' + (d + 1) + ':' + v.length); }));
if (bad.length) throw new Error('Row length mismatch: ' + bad.join(', '));
</script>
</body>
</html>
